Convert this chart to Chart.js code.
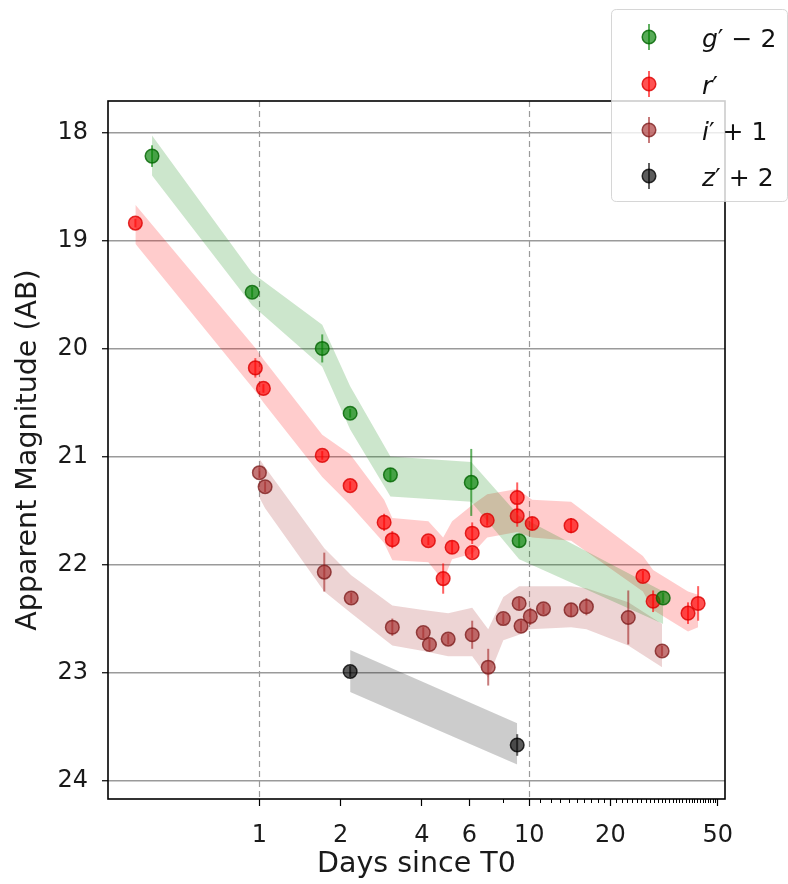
<!DOCTYPE html>
<html><head><meta charset="utf-8">
<script src="https://cdn.jsdelivr.net/npm/chart.js@4.4.1/dist/chart.umd.min.js"></script>
<style>html,body{margin:0;padding:0;background:#fff}#wrap{width:788px;height:884px;position:relative}</style>
</head><body><div id="wrap"><canvas id="c"></canvas></div>
<script>
// ---------- data ----------
const gDays = [0.40, 0.94, 1.71, 2.17, 3.06, 6.1, 9.18, 31.4];
const gMag  = [18.22, 19.48, 20.00, 20.60, 21.17, 21.24, 21.78, 22.31];
const gErr  = [0.10, 0.05, 0.13, 0.04, 0.06, 0.31, 0.06, 0.05];

const rDays = [0.347, 0.966, 1.035, 1.71, 2.17, 2.9, 3.11, 4.23, 4.8, 5.18, 6.15, 6.15, 6.99, 9.03, 9.03, 10.26, 14.3, 26.4, 28.8, 38.8, 42.3];
const rMag  = [18.84, 20.18, 20.37, 20.99, 21.27, 21.61, 21.77, 21.78, 22.13, 21.84, 21.71, 21.89, 21.59, 21.38, 21.55, 21.62, 21.64, 22.11, 22.34, 22.45, 22.36];
const rErr  = [0.04, 0.09, 0.04, 0.04, 0.04, 0.08, 0.08, 0.04, 0.14, 0.06, 0.10, 0.05, 0.05, 0.14, 0.10, 0.06, 0.07, 0.05, 0.10, 0.10, 0.16];

const iDays = [1.0, 1.05, 1.74, 2.19, 3.11, 4.05, 4.27, 5.01, 6.15, 7.05, 8.02, 9.18, 9.33, 10.1, 11.3, 14.3, 16.3, 23.3, 31.1];
const iMag  = [21.15, 21.28, 22.07, 22.31, 22.58, 22.63, 22.74, 22.69, 22.65, 22.95, 22.50, 22.36, 22.57, 22.48, 22.41, 22.42, 22.39, 22.49, 22.80];
const iErr  = [0.05, 0.05, 0.18, 0.05, 0.08, 0.05, 0.05, 0.05, 0.13, 0.17, 0.05, 0.05, 0.05, 0.08, 0.05, 0.06, 0.08, 0.25, 0.05];

const zDays = [2.17, 9.03];
const zMag  = [22.99, 23.67];
const zErr  = [0.05, 0.10];

// model bands (bright edge / faint edge)
const gBandDays = [0.40, 0.94, 1.71, 2.17, 3.06, 6.1, 9.18, 31.4];
const gBandTop  = [18.03, 19.30, 19.78, 20.35, 21.00, 21.05, 21.55, 22.25];
const gBandBot  = [18.40, 19.60, 20.17, 20.75, 21.37, 21.42, 21.95, 22.55];

const rBandDays = [0.347, 0.97, 1.035, 1.71, 2.17, 2.9, 3.11, 4.23, 4.8, 5.18, 6.15, 6.99, 9.03, 10.26, 14.3, 26.4, 28.8, 38.8, 42.3];
const rBandTop  = [18.67, 20.00, 20.10, 20.80, 20.98, 21.40, 21.57, 21.60, 21.75, 21.60, 21.45, 21.35, 21.30, 21.40, 21.42, 21.92, 22.05, 22.25, 22.28];
const rBandBot  = [19.03, 20.40, 20.50, 21.19, 21.45, 21.80, 21.96, 21.98, 22.15, 21.95, 21.90, 21.75, 21.70, 21.75, 21.78, 22.25, 22.42, 22.62, 22.58];

const iBandDays = [1.0, 1.05, 1.74, 2.19, 3.11, 4.05, 5.01, 6.15, 7.05, 8.02, 9.18, 10.1, 14.3, 16.3, 23.3, 31.1];
const iBandTop  = [21.02, 21.10, 21.85, 22.10, 22.38, 22.42, 22.45, 22.40, 22.60, 22.30, 22.20, 22.20, 22.20, 22.22, 22.35, 22.55];
const iBandBot  = [21.38, 21.48, 22.25, 22.45, 22.75, 22.80, 22.85, 22.85, 23.05, 22.70, 22.65, 22.60, 22.58, 22.60, 22.75, 22.95];

const zBandDays = [2.17, 9.03];
const zBandTop  = [22.79, 23.47];
const zBandBot  = [23.18, 23.85];

// axes
const xMajor = [1, 2, 4, 6, 10, 20, 50];
const xTickLabels = ['1', '2', '4', '6', '10', '20', '50'];
const xMinor = [8, 11, 12, 13, 14, 15, 16, 17, 18, 19, 21, 22, 23, 24, 25, 26, 27, 28, 29, 30, 31, 32, 33, 34, 35, 36, 37, 38, 39, 40, 41, 42, 43, 44, 45, 46, 47, 48, 49];
const yTicks = [18, 19, 20, 21, 22, 23, 24];
const refLines = [1, 10];

const seriesLabels = ["g′ − 2", "r′", "i′ + 1", "z′ + 2"];
const legendParts = [['g', '′ − 2'], ['r', '′'], ['i', '′ + 1'], ['z', '′ + 2']];

// ---------- styling ----------
const FONT = '"DejaVu Sans", "Liberation Sans", sans-serif';
const ptFill   = ['rgba(0,128,0,0.66)', 'rgba(255,0,0,0.68)', 'rgba(165,42,42,0.64)', 'rgba(0,0,0,0.64)'];
const ptEdge   = ['rgba(0,100,0,0.8)', 'rgba(220,0,0,0.8)', 'rgba(125,30,30,0.78)', 'rgba(0,0,0,0.78)'];
const barCol   = ['rgba(0,128,0,0.62)', 'rgba(255,0,0,0.62)', 'rgba(165,42,42,0.62)', 'rgba(0,0,0,0.62)'];
const bandFill = ['rgba(0,128,0,0.2)', 'rgba(255,0,0,0.2)', 'rgba(165,42,42,0.2)', 'rgba(0,0,0,0.2)'];

const pts = (xs, ys) => xs.map((x, i) => ({x: x, y: ys[i]}));
const pointDs = (k, xs, ys) => ({
  label: seriesLabels[k], data: pts(xs, ys), showLine: false,
  pointRadius: 6.8, pointHoverRadius: 6.8, pointBorderWidth: 1.5,
  pointBackgroundColor: ptFill[k], pointBorderColor: ptEdge[k], borderColor: ptEdge[k]
});
const edgeDs = (xs, ys, fill, color) => ({
  data: pts(xs, ys), borderWidth: 0, borderColor: 'rgba(0,0,0,0)', pointRadius: 0, pointHoverRadius: 0,
  tension: 0, fill: fill, backgroundColor: color
});

const series = [
  {xs: gDays, ys: gMag, err: gErr},
  {xs: rDays, ys: rMag, err: rErr},
  {xs: iDays, ys: iMag, err: iErr},
  {xs: zDays, ys: zMag, err: zErr}
];

const datasets = [
  pointDs(0, gDays, gMag), pointDs(1, rDays, rMag), pointDs(2, iDays, iMag), pointDs(3, zDays, zMag),
  edgeDs(gBandDays, gBandTop, false, bandFill[0]), edgeDs(gBandDays, gBandBot, '-1', bandFill[0]),
  edgeDs(rBandDays, rBandTop, false, bandFill[1]), edgeDs(rBandDays, rBandBot, '-1', bandFill[1]),
  edgeDs(iBandDays, iBandTop, false, bandFill[2]), edgeDs(iBandDays, iBandBot, '-1', bandFill[2]),
  edgeDs(zBandDays, zBandTop, false, bandFill[3]), edgeDs(zBandDays, zBandBot, '-1', bandFill[3])
];

const deco = {
  id: 'deco',
  beforeDatasetsDraw(chart) {
    const {ctx, chartArea: a, scales: {x}} = chart;
    ctx.save();
    ctx.strokeStyle = '#9a9a9a'; ctx.lineWidth = 1.2; ctx.setLineDash([6, 4]);
    refLines.forEach(v => {
      const px = Math.round(x.getPixelForValue(v)) + 0.5;
      ctx.beginPath(); ctx.moveTo(px, a.top); ctx.lineTo(px, a.bottom); ctx.stroke();
    });
    ctx.restore();
  },
  afterDatasetDraw(chart, args) {
    if (args.index !== 4) return;
    const {ctx, chartArea: a, scales: {x, y}} = chart;
    ctx.save();
    ctx.beginPath(); ctx.rect(a.left, a.top, a.right - a.left, a.bottom - a.top); ctx.clip();
    ctx.lineWidth = 2;
    series.forEach((s, k) => {
      ctx.strokeStyle = barCol[k];
      s.xs.forEach((xv, i) => {
        const px = x.getPixelForValue(xv);
        ctx.beginPath();
        ctx.moveTo(px, y.getPixelForValue(s.ys[i] - s.err[i]));
        ctx.lineTo(px, y.getPixelForValue(s.ys[i] + s.err[i]));
        ctx.stroke();
      });
    });
    ctx.restore();
  },
  afterDatasetsDraw(chart) {
    const {ctx, chartArea: a, scales: {x}} = chart;
    ctx.save();
    ctx.strokeStyle = '#000'; ctx.lineWidth = 1;
    xMinor.forEach(v => {
      const px = Math.round(x.getPixelForValue(v)) + 0.5;
      ctx.beginPath(); ctx.moveTo(px, a.bottom); ctx.lineTo(px, a.bottom + 4); ctx.stroke();
    });
    ctx.lineWidth = 1.6;
    ctx.strokeRect(a.left, a.top, a.right - a.left, a.bottom - a.top);
    ctx.restore();
  },
  afterDraw(chart) {
    const ctx = chart.ctx;
    ctx.save();
    const bx = 611.5, by = 9.5, bw = 176, bh = 192, r = 5;
    ctx.beginPath();
    ctx.moveTo(bx + r, by); ctx.lineTo(bx + bw - r, by); ctx.quadraticCurveTo(bx + bw, by, bx + bw, by + r);
    ctx.lineTo(bx + bw, by + bh - r); ctx.quadraticCurveTo(bx + bw, by + bh, bx + bw - r, by + bh);
    ctx.lineTo(bx + r, by + bh); ctx.quadraticCurveTo(bx, by + bh, bx, by + bh - r);
    ctx.lineTo(bx, by + r); ctx.quadraticCurveTo(bx, by, bx + r, by);
    ctx.closePath();
    ctx.fillStyle = 'rgba(255,255,255,0.8)'; ctx.fill();
    ctx.strokeStyle = 'rgba(204,204,204,0.8)'; ctx.lineWidth = 1; ctx.stroke();
    const rows = [37, 84, 130, 176];
    rows.forEach((ry, k) => {
      ctx.strokeStyle = barCol[k]; ctx.lineWidth = 2;
      ctx.beginPath(); ctx.moveTo(649, ry - 13); ctx.lineTo(649, ry + 13); ctx.stroke();
      ctx.beginPath(); ctx.arc(649, ry, 6.8, 0, Math.PI * 2);
      ctx.fillStyle = ptFill[k]; ctx.fill();
      ctx.strokeStyle = ptEdge[k]; ctx.lineWidth = 1.5; ctx.stroke();
      ctx.fillStyle = '#111'; ctx.textBaseline = 'alphabetic'; ctx.textAlign = 'left';
      let tx = 702;
      ctx.font = 'italic 25px ' + FONT;
      ctx.fillText(legendParts[k][0], tx, ry + 9.5);
      tx += ctx.measureText(legendParts[k][0]).width;
      ctx.font = '25px ' + FONT;
      ctx.fillText(legendParts[k][1], tx, ry + 9.5);
    });
    ctx.restore();
  }
};

new Chart(document.getElementById('c'), {
  type: 'line',
  data: {datasets: datasets},
  options: {
    responsive: true, maintainAspectRatio: false, animation: false, devicePixelRatio: 1,
    layout: {padding: {top: 101, right: 63, left: 0, bottom: 0}},
    plugins: {legend: {display: false}, tooltip: {enabled: false}},
    scales: {
      x: {
        type: 'logarithmic', min: 0.2747, max: 53.2,
        afterBuildTicks: s => { s.ticks = xMajor.map(v => ({value: v})); },
        afterFit: s => { s.height = 85; },
        ticks: {
          autoSkip: false, maxRotation: 0, minRotation: 0, padding: 15, color: '#1a1a1a',
          font: {family: FONT, size: 24},
          callback: v => { const i = xMajor.indexOf(v); return i >= 0 ? xTickLabels[i] : ''; }
        },
        grid: {drawOnChartArea: false, tickLength: 7, tickColor: '#000', tickWidth: 1.2},
        border: {display: false},
        title: {display: true, text: 'Days since T0', color: '#1a1a1a', font: {family: FONT, size: 28.5}, padding: {top: 0, bottom: 2}}
      },
      y: {
        type: 'linear', reverse: true, min: 17.71, max: 24.17,
        afterBuildTicks: s => { s.ticks = yTicks.map(v => ({value: v})); },
        afterFit: s => { s.width = 108; },
        ticks: {padding: 14, color: '#1a1a1a', font: {family: FONT, size: 24}, callback: v => String(v)},
        grid: {color: 'rgba(120,120,120,0.75)', lineWidth: 1.5, tickLength: 6, tickColor: '#000', tickWidth: 1.2},
        border: {display: false},
        title: {display: true, text: 'Apparent Magnitude (AB)', color: '#1a1a1a', font: {family: FONT, size: 28.5}, padding: {top: 11, bottom: 0}}
      }
    }
  },
  plugins: [deco]
});
</script>
</body></html>
